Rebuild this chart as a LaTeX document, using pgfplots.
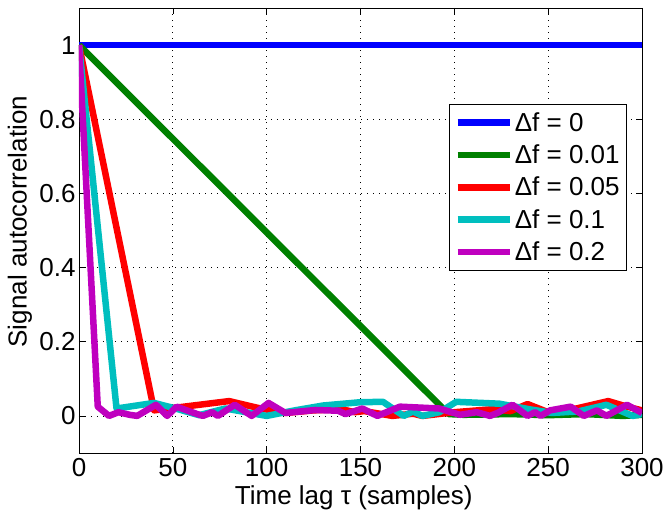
\documentclass[border=0pt]{standalone}
\usepackage{fontspec}
\setmainfont{Liberation Sans}
\usepackage{pgfplots}
\pgfplotsset{compat=1.18}
\definecolor{mblue}{rgb}{0,0,1}
\definecolor{mgreen}{rgb}{0,0.5,0}
\definecolor{mred}{rgb}{1,0,0}
\definecolor{mcyan}{rgb}{0,0.75,0.75}
\definecolor{mmag}{rgb}{0.75,0,0.75}
\begin{document}
\begin{tikzpicture}
\begin{axis}[
  scale only axis,
  width=563pt, height=445pt,
  xmin=0, xmax=300, ymin=-0.1, ymax=1.1,
  xtick={0,50,100,150,200,250,300},
  ytick={0,0.2,0.4,0.6,0.8,1},
  yticklabels={0,0.2,0.4,0.6,0.8,1},
  font=\fontsize{26}{30}\selectfont,
  /pgf/number format/assume math mode=true,
  xticklabel style={yshift=-2pt},
  tick align=inside,
  major tick length=6pt,
  tick style={black, line width=0.6pt},
  axis line style={black, line width=0.8pt},
  grid=major,
  major grid style={black, line width=0.7pt, dash pattern=on 1pt off 5pt},
  xlabel={Time lag τ (samples)},
  ylabel={Signal autocorrelation},
  xlabel style={at={(axis description cs:0.488,-0.101)}, anchor=center},
  ylabel style={at={(axis description cs:-0.105,0.52)}, anchor=center},
  every axis plot/.append style={line width=6.5pt, line join=round},
  legend image code/.code={\draw[#1] (0pt,0pt) -- (52pt,0pt);},
  legend cell align=left,
  legend style={at={(axis description cs:0.657,0.784)}, anchor=north west,
    draw=black, line width=0.8pt, fill=white, row sep=8pt,
    inner xsep=5pt, inner ysep=6pt,
    font=\fontsize{26}{30}\selectfont},
]
\addplot[color=mblue] coordinates {(0,1) (300,1)};
\addlegendentry{Δf = 0}
\addplot[color=mgreen] coordinates {(0,1) (197,0.005) (205,0.003) (230,0.005) (250,0.002) (270,0.005) (290,0.0) (300,0.003)};
\addlegendentry{Δf = 0.01}
\addplot[color=mred] coordinates {(0,1) (40,0.015) (80,0.04) (95,0.022) (110,0.008) (125,0.015) (140,0.018) (147,0.01) (152,0.013) (167,0.0) (178,0.006) (183,0.0) (200,0.01) (220,0.018) (230,0.013) (239,0.032) (250,0.01) (265,0.02) (282,0.04) (292,0.025) (300,0.015)};
\addlegendentry{Δf = 0.05}
\addplot[color=mcyan] coordinates {(0,1) (20,0.02) (40,0.035) (50,0.022) (64,0.002) (78,0.02) (100,0.0) (115,0.015) (130,0.028) (150,0.037) (162,0.038) (173,0.0) (178,0.012) (183,0.0) (192,0.01) (201,0.038) (224,0.033) (240,0.018) (252,0.008) (266,0.012) (281,0.03) (295,0.0) (300,0.005)};
\addlegendentry{Δf = 0.1}
\addplot[color=mmag] coordinates {(0,1) (10,0.025) (16,0.0) (21,0.01) (27,0.003) (31,0.0) (41,0.03) (47,0.0) (52,0.025) (59,0.012) (66,0.0) (71,0.01) (74,0.0) (83,0.03) (92,0.0) (101,0.035) (110,0.008) (126,0.016) (138,0.014) (142,0.005) (151,0.02) (159,0.0) (171,0.025) (192,0.02) (203,0.003) (212,0.01) (219,0.0) (223,0.008) (231,0.03) (239,0.0) (243,0.01) (246,0.0) (251,0.015) (262,0.025) (269,0.0) (276,0.015) (281,0.0) (292,0.03) (300,0.008)};
\addlegendentry{Δf = 0.2}
\end{axis}
\pgfresetboundingbox
\path[use as bounding box] ([shift={(-79pt,-59pt)}]current axis.south west) rectangle ([shift={(24pt,8pt)}]current axis.north east);
\end{tikzpicture}
\end{document}
